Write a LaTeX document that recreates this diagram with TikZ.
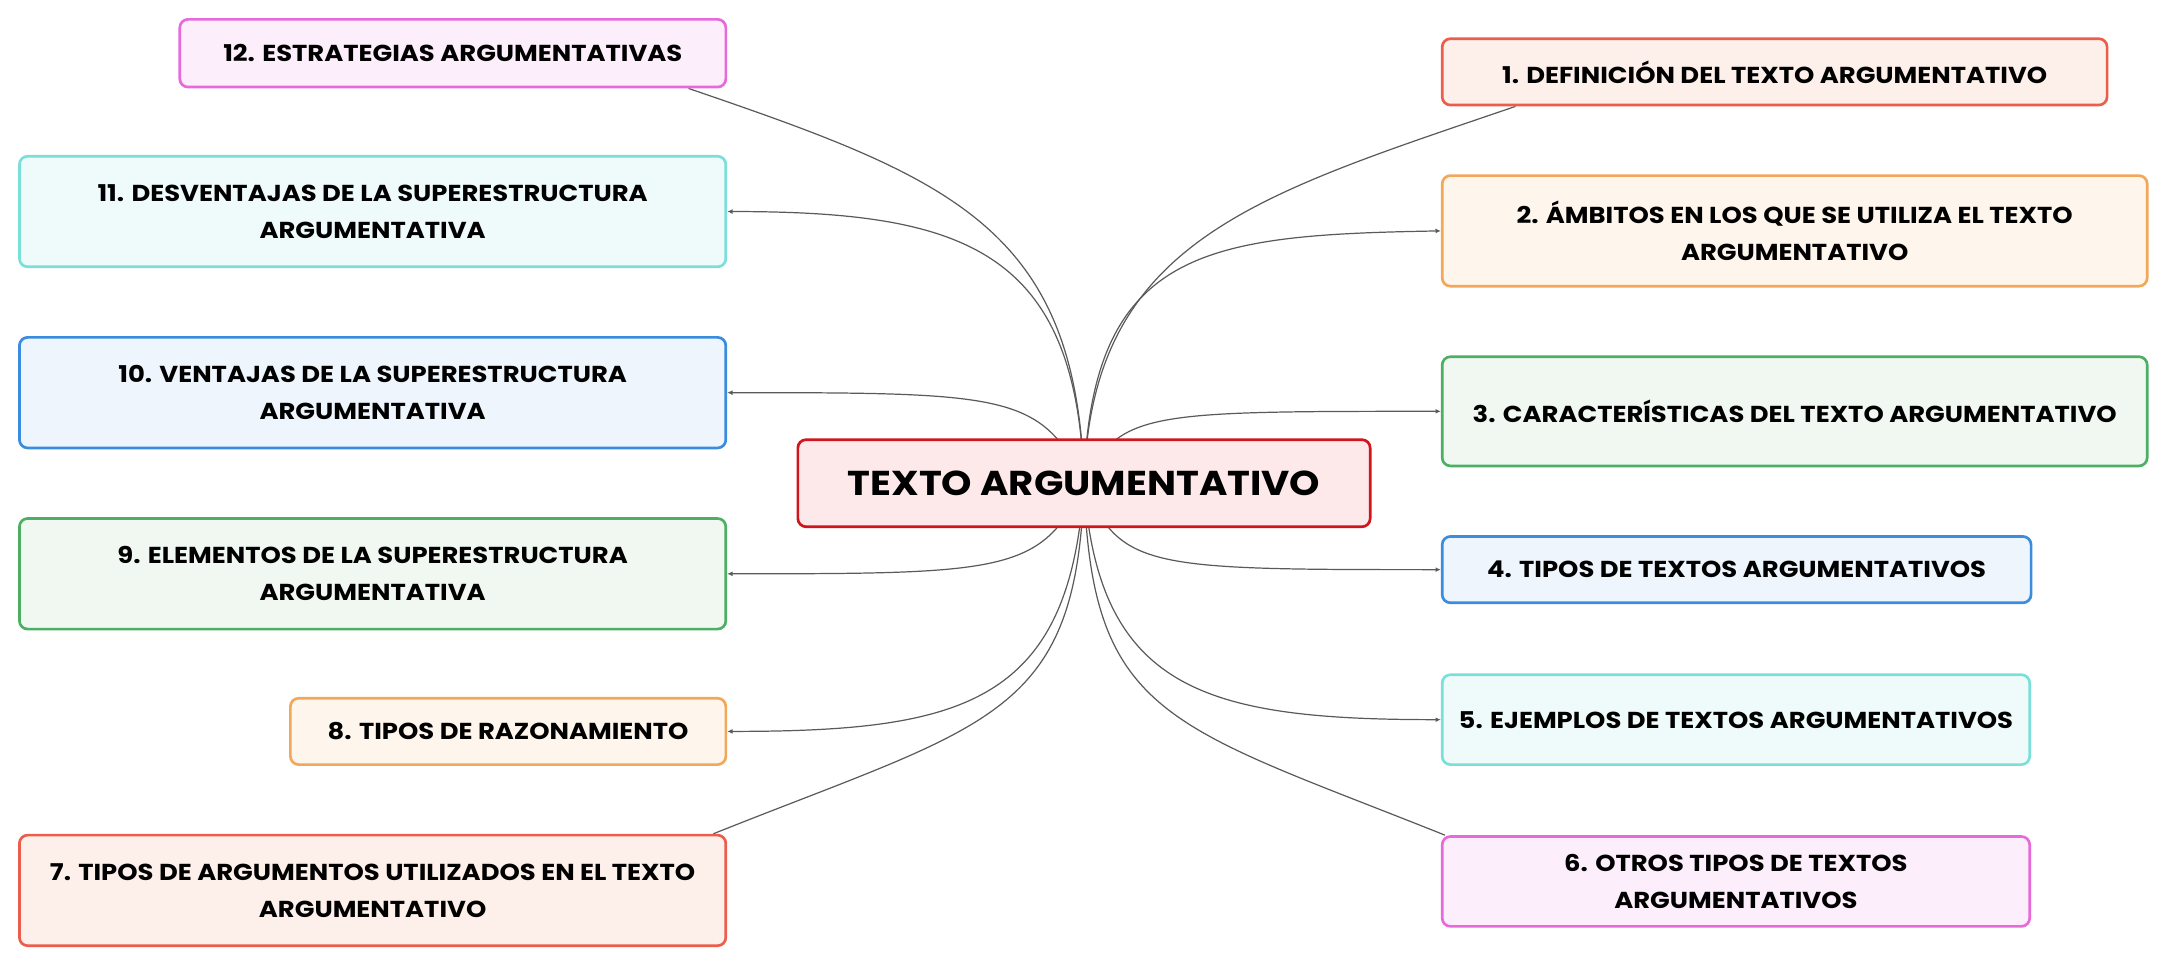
\documentclass[tikz,border=0pt]{standalone}
\usepackage{fontspec}
\setmainfont{Poppins}[FakeStretch=1.12]
\usetikzlibrary{
    arrows.meta,
    backgrounds
}
\definecolor{rojo}{HTML}{EB5E4B}
\definecolor{rojoclaro}{HTML}{FDEFEA}
\definecolor{naranja}{HTML}{F2A85A}
\definecolor{naranjaclaro}{HTML}{FEF5EC}
\definecolor{verde}{HTML}{4CAF63}
\definecolor{verdeclaro}{HTML}{F1F8F2}
\definecolor{azul}{HTML}{3A8DDE}
\definecolor{azulclaro}{HTML}{EEF5FD}
\definecolor{cian}{HTML}{7ADFD9}
\definecolor{cianclaro}{HTML}{EFFBFB}
\definecolor{rosa}{HTML}{E66ADB}
\definecolor{rosaclaro}{HTML}{FCEEFA}
\definecolor{central}{HTML}{D0161B}
\definecolor{centralclaro}{HTML}{FDE9E9}
\definecolor{linea}{HTML}{5A5A5A}
\tikzset{
    tema/.style={draw, rounded corners=3.4pt, line width=1.1pt, align=center,
        inner sep=0pt, font=\bfseries\fontsize{9.5}{15.3}\selectfont},
    rama/.style={draw=linea, line width=0.5pt},
    flecha/.style={rama, -{Latex[length=2.2pt, width=2pt]}}
}

\begin{document}
\begin{tikzpicture}[x=0.02cm, y=0.02cm]
                        \useasboundingbox (0, 0) rectangle (1568, 699);

                        \node[tema, draw=central, fill=centralclaro, minimum width=8.28cm, minimum height=1.26cm,
                            font=\bfseries\fontsize{14.2}{18}\selectfont] (c) at (784, 349.5) {TEXTO ARGUMENTATIVO};

                        \node[tema, draw=rojo, fill=rojoclaro, minimum width=9.62cm, minimum height=0.96cm] (b1) at (1283.5, 647) {1. DEFINICIÓN DEL TEXTO ARGUMENTATIVO};
                        \node[tema, draw=naranja, fill=naranjaclaro, minimum width=10.2cm, minimum height=1.6cm] (b2) at (1298, 532) {2. ÁMBITOS EN LOS QUE SE UTILIZA EL TEXTO\\ARGUMENTATIVO};
                        \node[tema, draw=verde, fill=verdeclaro, minimum width=10.2cm, minimum height=1.58cm] (b3) at (1298, 401.5) {3. CARACTERÍSTICAS DEL TEXTO ARGUMENTATIVO};
                        \node[tema, draw=azul, fill=azulclaro, minimum width=8.52cm, minimum height=0.96cm] (b4) at (1256, 287) {4. TIPOS DE TEXTOS ARGUMENTATIVOS};
                        \node[tema, draw=cian, fill=cianclaro, minimum width=8.5cm, minimum height=1.3cm] (b5) at (1255.5, 178.5) {5. EJEMPLOS DE TEXTOS ARGUMENTATIVOS};
                        \node[tema, draw=rosa, fill=rosaclaro, minimum width=8.5cm, minimum height=1.3cm] (b6) at (1255.5, 61.5) {6. OTROS TIPOS DE TEXTOS\\ARGUMENTATIVOS};

                        \node[tema, draw=rojo, fill=rojoclaro, minimum width=10.22cm, minimum height=1.6cm] (b7) at (269.5, 55) {7. TIPOS DE ARGUMENTOS UTILIZADOS EN EL TEXTO\\ARGUMENTATIVO};
                        \node[tema, draw=naranja, fill=naranjaclaro, minimum width=6.3cm, minimum height=0.96cm] (b8) at (367.5, 170) {8. TIPOS DE RAZONAMIENTO};
                        \node[tema, draw=verde, fill=verdeclaro, minimum width=10.22cm, minimum height=1.6cm] (b9) at (269.5, 284) {9. ELEMENTOS DE LA SUPERESTRUCTURA\\ARGUMENTATIVA};
                        \node[tema, draw=azul, fill=azulclaro, minimum width=10.22cm, minimum height=1.6cm] (b10) at (269.5, 415) {10. VENTAJAS DE LA SUPERESTRUCTURA\\ARGUMENTATIVA};
                        \node[tema, draw=cian, fill=cianclaro, minimum width=10.22cm, minimum height=1.6cm] (b11) at (269.5, 546) {11. DESVENTAJAS DE LA SUPERESTRUCTURA\\ARGUMENTATIVA};
                        \node[tema, draw=rosa, fill=rosaclaro, minimum width=7.9cm, minimum height=0.98cm] (b12) at (327.5, 660.5) {12. ESTRATEGIAS ARGUMENTATIVAS};

                        \begin{scope}[on background layer]
                        \draw[rama] (c.center) .. controls +(5, 175) and +(-190, -65) .. ([xshift=1.08cm]b1.south west);
                        \draw[flecha] (c.center) .. controls +(5, 170) and +(-170, -3) .. (b2.west);
                        \draw[flecha] (c.center) .. controls +(26, 52) and +(-213, 0) .. (b3.west);
                        \draw[flecha] (c.center) .. controls +(26, -62) and +(-213, 0) .. (b4.west);
                        \draw[flecha] (c.center) .. controls +(10, -150) and +(-170, 0) .. (b5.west);
                        \draw[rama] (c.center) .. controls +(5, -170) and +(-200, 80) .. ([xshift=0.06cm]b6.north west);
                        \draw[rama] (c.center) .. controls +(-5, -170) and +(200, 80) .. ([xshift=-0.2cm]b7.north east);
                        \draw[flecha] (c.center) .. controls +(-10, -160) and +(170, 0) .. (b8.east);
                        \draw[flecha] (c.center) .. controls +(-30, -65) and +(200, 0) .. (b9.east);
                        \draw[flecha] (c.center) .. controls +(-30, 65) and +(200, 0) .. (b10.east);
                        \draw[flecha] (c.center) .. controls +(-5, 170) and +(170, 0) .. (b11.east);
                        \draw[rama] (c.center) .. controls +(-5, 185) and +(190, -65) .. ([xshift=-0.56cm]b12.south east);
                        \end{scope}
                    \end{tikzpicture}
\end{document}
